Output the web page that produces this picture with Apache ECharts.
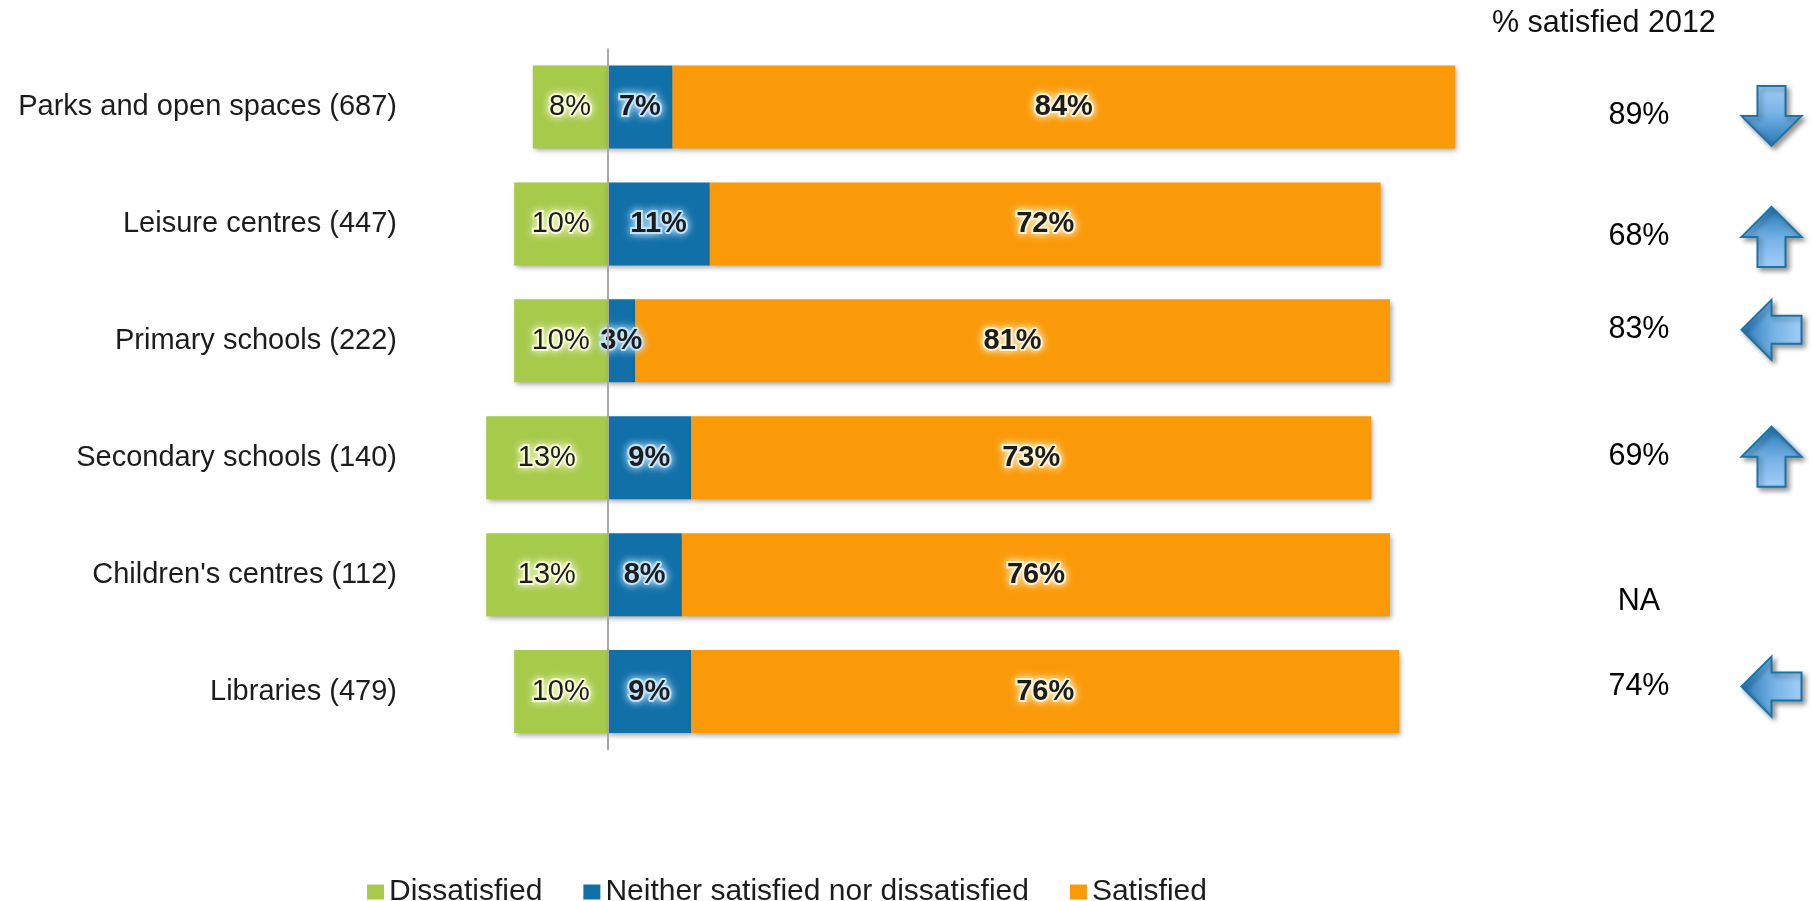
<!DOCTYPE html>
<html>
<head>
<meta charset="utf-8">
<title>Satisfaction with local services</title>
<script src="https://cdn.jsdelivr.net/npm/echarts@6/dist/echarts.min.js"></script>
<style>
  html, body { margin: 0; padding: 0; background: #ffffff; }
  #chart { width: 1813px; height: 901px; }
</style>
</head>
<body>
<div id="chart"></div>
<script>
// Services (with number of respondents)
const categories = [
  'Parks and open spaces (687)',
  'Leisure centres (447)',
  'Primary schools (222)',
  'Secondary schools (140)',
  "Children's centres (112)",
  'Libraries (479)'
];
// Shares of respondents, %
const dissatisfied = [8, 10, 10, 13, 13, 10];
const neither      = [7, 11, 3, 9, 8, 9];
const satisfied    = [84, 72, 81, 73, 76, 76];
// Previous survey: % satisfied in 2012 (null = not asked)
const satisfied2012 = [89, 68, 83, 69, null, 74];
// Direction of the trend marker shown for each service
const trend = ['down', 'up', 'left', 'up', null, 'left'];

const seriesNames = ['Dissatisfied', 'Neither satisfied nor dissatisfied', 'Satisfied'];
const headerText = '% satisfied 2012';

// ---- styling / layout ----
const FONT = 'Arial, "Liberation Sans", Helvetica, sans-serif';
const COLORS = { dis: '#a6ca4a', neither: '#1170a8', sat: '#fa9a08' };
const COL_VALUE = 0.312;   // x-position of the 2012 column within the right-hand panel
const COL_ARROW = 0.836;   // x-position of the arrow column
const rowNudge = [9, 13, -11, -1, 27, -5];   // vertical nudge of right-hand rows
const ROTATION = { down: 0, up: 180, left: -90 };
const ARROW_PATH = 'path://M16,0 L44,0 L44,30 L60,30 L30,60 L0,30 L16,30 Z';

const barShadow = {
  shadowColor: 'rgba(0,0,0,0.35)',
  shadowBlur: 5,
  shadowOffsetX: 2,
  shadowOffsetY: 3
};

function barLabel(weight, glow) {
  return {
    show: true,
    position: 'inside',
    fontFamily: FONT,
    fontSize: 29,
    fontWeight: weight,
    color: '#1c1c1c',
    textBorderColor: glow,
    textBorderWidth: 4,
    textShadowColor: glow,
    textShadowBlur: 9,
    formatter: p => Math.abs(p.value) + '%'
  };
}

const chart = echarts.init(document.getElementById('chart'), null, { renderer: 'canvas' });

const option = {
  animation: false,
  backgroundColor: '#ffffff',
  title: {
    text: headerText,
    left: 1492,
    top: 8,
    padding: 0,
    textStyle: { fontFamily: FONT, fontSize: 30.5, fontWeight: 'normal', color: '#111' }
  },
  legend: {
    data: seriesNames,
    left: 362,
    top: 872,
    icon: 'rect',
    itemWidth: 17,
    itemHeight: 15,
    itemGap: 41,
    textStyle: { fontFamily: FONT, fontSize: 30, color: '#1c1c1c' },
    selectedMode: false
  },
  grid: [
    { left: 421, width: 1118, top: 48.5, height: 701.5 },
    { left: 1560, width: 253, top: 48.5, height: 701.5 }
  ],
  xAxis: [
    { type: 'value', gridIndex: 0, min: -20, max: 100, show: false },
    { type: 'value', gridIndex: 1, min: 0, max: 1, show: false }
  ],
  yAxis: [
    {
      type: 'category', gridIndex: 0, inverse: true, data: categories,
      axisLine: { show: false }, axisTick: { show: false },
      axisLabel: { fontFamily: FONT, fontSize: 29, color: '#1c1c1c', margin: 24 }
    },
    { type: 'category', gridIndex: 1, inverse: true, data: categories, show: false }
  ],
  series: [
    {
      // zero reference line, kept beneath the bars and their labels
      name: 'zero', type: 'line', xAxisIndex: 0, yAxisIndex: 0, z: 1,
      data: [],
      markLine: {
        silent: true,
        symbol: ['none', 'none'],
        label: { show: false },
        lineStyle: { color: '#a8a8a8', width: 2, type: 'solid' },
        data: [{ xAxis: 0 }]
      }
    },
    {
      name: seriesNames[0], type: 'bar', stack: 'total', barWidth: 83,
      data: dissatisfied.map(v => -v),
      itemStyle: Object.assign({ color: COLORS.dis }, barShadow),
      label: barLabel('normal', 'rgba(248,252,214,0.95)')
    },
    {
      name: seriesNames[1], type: 'bar', stack: 'total', barWidth: 83,
      data: neither,
      itemStyle: Object.assign({ color: COLORS.neither }, barShadow),
      label: barLabel('bold', 'rgba(196,230,255,0.95)')
    },
    {
      name: seriesNames[2], type: 'bar', stack: 'total', barWidth: 83,
      data: satisfied,
      itemStyle: Object.assign({ color: COLORS.sat }, barShadow),
      label: barLabel('bold', 'rgba(255,244,214,0.95)')
    },
    {
      name: '2012', type: 'scatter', xAxisIndex: 1, yAxisIndex: 1,
      symbolSize: 1,
      itemStyle: { color: 'rgba(0,0,0,0)', opacity: 1 },
      data: categories.map((c, i) => ({
        value: [COL_VALUE, c],
        label: { offset: [0, rowNudge[i]] }
      })),
      label: {
        show: true,
        position: 'inside',
        fontFamily: FONT,
        fontSize: 30.5,
        color: '#000',
        formatter: p => satisfied2012[p.dataIndex] == null ? 'NA' : satisfied2012[p.dataIndex] + '%'
      },
      silent: true
    },
    {
      name: 'Trend', type: 'scatter', xAxisIndex: 1, yAxisIndex: 1,
      symbol: ARROW_PATH,
      symbolSize: [60, 60],
      itemStyle: {
        opacity: 1,
        color: {
          type: 'linear', x: 0, y: 0, x2: 0, y2: 1,
          colorStops: [
            { offset: 0, color: '#a2cff8' },
            { offset: 0.45, color: '#78b3e6' },
            { offset: 1, color: '#2377b6' }
          ]
        },
        borderColor: '#1a74a8',
        borderWidth: 2,
        shadowColor: 'rgba(0,0,0,0.4)',
        shadowBlur: 5,
        shadowOffsetX: 3,
        shadowOffsetY: 3
      },
      data: trend.map((t, i) => t ? {
        value: [COL_ARROW, categories[i]],
        symbolRotate: ROTATION[t],
        symbolOffset: [0, rowNudge[i]]
      } : null).filter(Boolean),
      silent: true
    }
  ]
};

chart.setOption(option);
</script>
</body>
</html>
